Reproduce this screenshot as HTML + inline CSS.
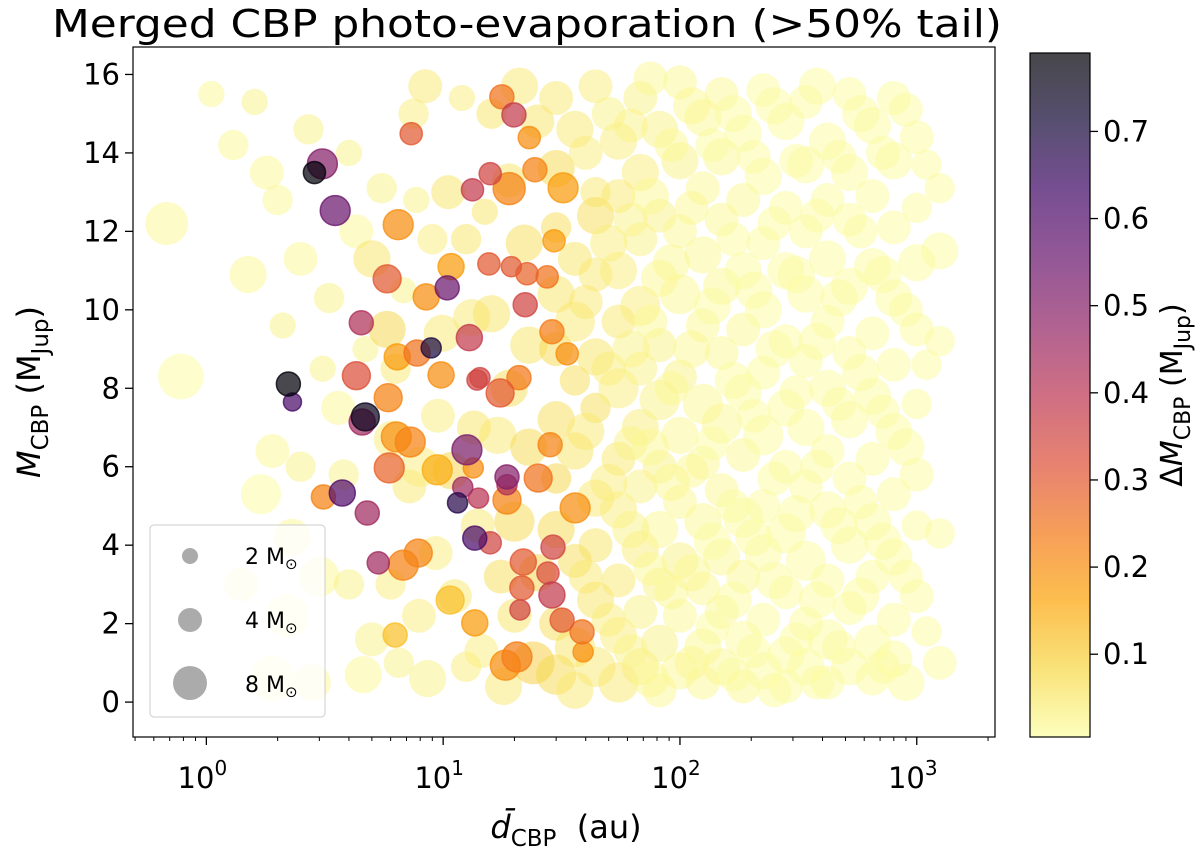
<!DOCTYPE html>
<html><head><meta charset="utf-8"><style>
html,body{margin:0;padding:0;background:#fff;}
svg{display:block;font-family:"DejaVu Sans","Liberation Sans",sans-serif;}
</style></head><body>
<svg id="chart" width="1200" height="858" viewBox="0 0 1200 858" xmlns="http://www.w3.org/2000/svg">
<defs>
<linearGradient id="cbgrad" x1="0" y1="1" x2="0" y2="0">
<stop offset="0" stop-color="#fcffa4"/><stop offset="0.1" stop-color="#f6d746"/><stop offset="0.2" stop-color="#fca50a"/><stop offset="0.3" stop-color="#f37819"/><stop offset="0.4" stop-color="#dd513a"/><stop offset="0.5" stop-color="#bc3754"/><stop offset="0.6" stop-color="#932667"/><stop offset="0.7" stop-color="#6a176e"/><stop offset="0.8" stop-color="#420a68"/><stop offset="0.9" stop-color="#160b39"/><stop offset="1" stop-color="#000004"/>
</linearGradient>
<clipPath id="plotclip"><rect x="133" y="47" width="862" height="690"/></clipPath>
</defs>
<text x="527" y="37" font-size="38" text-anchor="middle" textLength="950" lengthAdjust="spacingAndGlyphs" fill="#000">Merged CBP photo-evaporation (&gt;50% tail)</text>
<g id="points" clip-path="url(#plotclip)"></g>
<rect x="133" y="47" width="862" height="690" fill="none" stroke="#000" stroke-width="1.2"/>
<g id="xaxis"></g>
<g id="yaxis"></g>
<text transform="translate(40,392) rotate(-90)" font-size="32" text-anchor="middle"><tspan font-style="italic">M</tspan><tspan font-size="23" dy="8">CBP</tspan><tspan dy="-8"> (M</tspan><tspan font-size="23" dy="8">Jup</tspan><tspan dy="-8">)</tspan></text>
<text x="566" y="838" font-size="32" text-anchor="middle"><tspan font-style="italic">d̄</tspan><tspan font-size="23" dy="8">CBP</tspan><tspan dy="-8" xml:space="preserve">  (au)</tspan></text>
<g>
<rect x="150" y="525" width="175" height="192" rx="4" fill="#fff" fill-opacity="0.8" stroke="#ccc"/>
<circle cx="190" cy="556" r="8" fill="#888" fill-opacity="0.7"/>
<circle cx="190" cy="620" r="12" fill="#888" fill-opacity="0.7"/>
<circle cx="190" cy="683" r="17" fill="#888" fill-opacity="0.7"/>
<text x="245" y="564" font-size="22">2 M<tspan font-size="15" dy="5">⊙</tspan></text>
<text x="245" y="628" font-size="22">4 M<tspan font-size="15" dy="5">⊙</tspan></text>
<text x="245" y="692" font-size="22">8 M<tspan font-size="15" dy="5">⊙</tspan></text>
</g>
<g>
<rect x="1030" y="53" width="60" height="684" fill="url(#cbgrad)" fill-opacity="0.72"/>
<rect x="1030" y="53" width="60" height="684" fill="none" stroke="#000" stroke-width="1.2"/>
<g id="cbticks"></g>
<text transform="translate(1182,395) rotate(-90)" font-size="30" text-anchor="middle">Δ<tspan font-style="italic">M</tspan><tspan font-size="22" dy="8">CBP</tspan><tspan dy="-8"> (M</tspan><tspan font-size="22" dy="8">Jup</tspan><tspan dy="-8">)</tspan></text>
</g>
</svg>
<script>
const NS="http://www.w3.org/2000/svg";
const xTickVals=[1,10,100,1000];
const xTickExps=["0","1","2","3"];
const yTickVals=[0,2,4,6,8,10,12,14,16];
const cbTickVals=[0.1,0.2,0.3,0.4,0.5,0.6,0.7];
const xDomain=[0.49,2140];
const yDomain=[-0.89,16.7];
const cDomain=[0.005,0.79];
// pale background points: [distance au, mass Mjup, star mass Msun, dM]
const palePoints=[
[0.68,12.2,8,0.02],[0.78,8.3,9,0.01],[1.05,15.5,3,0.02],[1.3,14.2,4,0.02],[1.5,10.9,6,0.02],[1.6,15.3,3,0.03],[1.8,13.5,5,0.02],[1.9,6.4,5,0.02],[1.7,5.3,7,0.01],[2.1,9.6,3,0.03],[2.0,12.8,4,0.02],[2.5,11.3,5,0.02],[2.7,14.6,4,0.03],[2.2,2.2,8,0.01],[1.9,0.6,9,0.01],[2.8,0.5,6,0.02],[3.0,3.2,7,0.02],[2.5,6.0,4,0.03],[3.3,10.3,4,0.03],[3.6,7.5,5,0.02],[3.1,8.5,3,0.03],[4.0,14.0,3,0.03],[4.3,12.0,5,0.02],[5.0,11.3,6,0.06],[5.5,13.1,4,0.03],[4.7,9.0,3,0.03],[4.0,3.0,4,0.03],[5.0,1.6,5,0.03],[4.6,0.7,6,0.02],[6.0,3.0,4,0.04],[6.5,1.0,4,0.03],[5.8,9.5,6,0.09],[6.3,8.5,4,0.05],[6.8,10.5,3,0.03],[7.5,15.0,4,0.04],[7.7,12.8,3,0.03],[7.2,5.5,5,0.05],[6.1,6.7,6,0.04],[7.9,2.2,5,0.04],[2.3,4.2,6,0.02],[1.4,3.0,5,0.02],[3.8,5.8,4,0.03],[8.4,15.7,5,0.05],[8.0,6.0,7,0.04],[9.0,11.8,4,0.04],[9.5,7.3,5,0.04],[9.3,3.8,5,0.04],[8.6,0.6,6,0.03],[9.9,9.4,6,0.05],[10.5,13.0,5,0.06],[10.8,5.9,6,0.09],[11.2,2.7,5,0.05],[12.5,0.9,4,0.04],[12.0,15.4,3,0.04],[12.5,11.8,4,0.06],[13.2,9.8,6,0.05],[13.5,7.0,5,0.06],[14,4.5,5,0.05],[14.5,1.3,5,0.04],[15,12.5,3,0.06],[16,15.0,4,0.06],[16,9.9,6,0.06],[17,6.8,6,0.05],[17.5,3.2,5,0.07],[18,0.4,6,0.05],[19,13.3,5,0.06],[19,8.0,6,0.07],[20,4.6,7,0.08],[20,2.2,5,0.06],[21,15.7,6,0.05],[22,11.7,6,0.07],[23,9.1,6,0.06],[23,6.5,6,0.08],[24,1.0,8,0.1],[25,14.8,5,0.06],[25,3.3,6,0.09],
[30,15.4,5,0.05],[30,13.6,6,0.08],[30,12.1,4,0.07],[30,10.4,6,0.06],[30,9.0,5,0.08],[30,7.2,6,0.07],[30,5.7,4,0.09],[30,4.4,6,0.08],[30,2.0,5,0.07],[30,0.7,7,0.08],
[36,14.6,6,0.05],[36,11.3,5,0.06],[36,9.7,7,0.05],[36,8.2,4,0.07],[36,6.4,6,0.06],[36,3.6,5,0.07],[36,1.4,7,0.06],[36,0.3,6,0.05],
[44,15.7,5,0.04],[44,13.0,4,0.05],[44,12.4,6,0.07],[44,10.9,5,0.05],[44,8.8,6,0.06],[44,7.5,4,0.07],[44,5.2,6,0.05],[44,4.0,5,0.06],[44,2.6,6,0.06],[44,0.9,7,0.05],
[55,14.3,6,0.04],[55,12.9,5,0.05],[55,11.0,6,0.04],[55,9.7,5,0.05],[55,8.0,7,0.04],[55,6.2,5,0.05],[55,4.9,6,0.04],[55,3.1,5,0.05],[55,1.7,6,0.04],[55,0.5,7,0.05],
[68,15.4,5,0.03],[68,13.5,6,0.04],[68,11.8,5,0.03],[68,10.1,7,0.04],[68,8.5,5,0.03],[68,7.0,6,0.04],[68,5.5,5,0.03],[68,3.9,6,0.04],[68,2.3,5,0.03],[68,0.9,6,0.04],
[82,14.6,6,0.03],[82,12.4,5,0.03],[82,10.8,6,0.02],[82,9.1,5,0.03],[82,7.7,7,0.03],[82,6.0,5,0.03],[82,4.4,6,0.02],[82,3.0,5,0.03],[82,1.5,6,0.03],[82,0.3,5,0.02],
[100,15.8,5,0.02],[100,13.8,6,0.03],[100,12.0,5,0.02],[100,10.4,7,0.02],[100,8.3,5,0.03],[100,6.8,6,0.02],[100,5.1,5,0.02],[100,3.6,6,0.03],[100,2.2,5,0.02],[100,0.8,6,0.02],
[125,14.9,6,0.02],[125,13.1,5,0.02],[125,11.4,6,0.02],[125,9.6,5,0.02],[125,7.6,7,0.02],[125,6.1,5,0.02],[125,4.6,6,0.02],[125,2.9,5,0.02],[125,1.4,6,0.02],[125,0.5,5,0.02],
[150,15.5,5,0.02],[150,13.9,6,0.02],[150,12.3,5,0.02],[150,10.6,6,0.02],[150,8.9,5,0.02],[150,7.1,7,0.02],[150,5.4,5,0.02],[150,3.7,6,0.02],[150,2.3,5,0.02],[150,0.9,6,0.02],
[185,14.5,6,0.01],[185,12.8,5,0.02],[185,11.0,6,0.01],[185,9.5,5,0.02],[185,7.9,6,0.01],[185,6.3,5,0.02],[185,4.7,7,0.01],[185,3.2,5,0.02],[185,1.6,6,0.01],[185,0.4,5,0.02],
[225,15.6,5,0.01],[225,13.4,6,0.01],[225,11.7,5,0.01],[225,10.0,6,0.01],[225,8.4,5,0.01],[225,6.8,7,0.01],[225,5.0,5,0.01],[225,3.8,6,0.01],[225,2.1,5,0.01],[225,0.8,6,0.01],
[280,14.8,6,0.01],[280,12.6,5,0.01],[280,11.0,6,0.01],[280,9.2,5,0.01],[280,7.5,6,0.01],[280,6.0,5,0.01],[280,4.3,7,0.01],[280,2.8,5,0.01],[280,1.2,6,0.01],[280,0.4,5,0.01],
[340,15.3,5,0.01],[340,13.7,6,0.01],[340,12.0,5,0.01],[340,10.4,6,0.01],[340,8.7,5,0.01],[340,7.0,6,0.01],[340,5.5,5,0.01],[340,3.6,7,0.01],[340,2.0,5,0.01],[340,0.9,6,0.01],
[420,14.3,6,0.01],[420,12.8,5,0.01],[420,11.3,6,0.01],[420,9.7,5,0.01],[420,8.0,6,0.01],[420,6.4,5,0.01],[420,4.9,6,0.01],[420,3.1,5,0.01],[420,1.6,7,0.01],[420,0.5,5,0.01],
[520,15.5,5,0.01],[520,13.5,6,0.01],[520,12.3,5,0.01],[520,10.6,6,0.01],[520,8.9,5,0.01],[520,7.2,6,0.01],[520,5.7,5,0.01],[520,4.0,6,0.01],[520,2.4,5,0.01],[520,0.9,6,0.01],
[650,14.7,6,0.01],[650,12.9,5,0.01],[650,11.1,6,0.01],[650,9.4,5,0.01],[650,7.8,6,0.01],[650,6.2,5,0.01],[650,4.6,6,0.01],[650,3.2,5,0.01],[650,1.5,6,0.01],[650,0.6,5,0.01],
[800,15.4,5,0.01],[800,13.8,6,0.01],[800,12.1,5,0.01],[800,10.3,6,0.01],[800,8.6,5,0.01],[800,6.9,6,0.01],[800,5.3,5,0.01],[800,3.7,6,0.01],[800,2.1,5,0.01],[800,1.1,6,0.01],
[1000,14.4,5,0.01],[1000,12.6,4,0.01],[1000,11.2,6,0.01],[1000,9.5,5,0.01],[1000,7.6,4,0.01],[1000,5.8,5,0.01],[1000,4.5,4,0.01],[1000,2.7,5,0.01],
[1250,13.1,4,0.01],[1250,11.5,6,0.01],[1250,9.2,4,0.01],[1250,4.3,4,0.01],[1250,1.0,5,0.01],
[40,14.0,5,0.04],[40,10.2,5,0.05],[40,6.9,6,0.05],[40,3.2,5,0.05],[50,15.0,5,0.03],[50,11.7,6,0.04],[50,8.5,5,0.04],[50,5.6,6,0.04],[50,2.1,5,0.04],
[62,14.7,5,0.03],[62,12.3,5,0.03],[62,9.0,6,0.03],[62,6.6,5,0.03],[62,4.4,6,0.03],[62,1.3,5,0.03],[75,15.9,5,0.02],[75,12.9,6,0.02],[75,9.7,5,0.02],[75,6.5,6,0.02],[75,3.4,5,0.02],[75,0.6,6,0.02],
[92,14.2,5,0.02],[92,11.2,6,0.02],[92,8.0,5,0.02],[92,5.6,6,0.02],[92,2.8,5,0.02],[112,15.2,6,0.02],[112,12.6,5,0.02],[112,9.0,6,0.02],[112,5.9,5,0.02],[112,3.3,6,0.02],[112,1.0,5,0.02],
[137,14.2,5,0.01],[137,10.1,6,0.01],[137,6.6,5,0.01],[137,4.1,6,0.01],[137,1.9,5,0.01],[168,15.0,6,0.01],[168,11.8,5,0.01],[168,8.2,6,0.01],[168,5.0,5,0.01],[168,2.6,6,0.01],[168,0.7,5,0.01],
[205,13.9,5,0.01],[205,10.5,6,0.01],[205,7.3,5,0.01],[205,4.2,6,0.01],[205,1.3,5,0.01],[250,15.2,6,0.01],[250,12.2,5,0.01],[250,9.0,6,0.01],[250,5.7,5,0.01],[250,3.1,6,0.01],[250,0.3,5,0.01],
[310,13.8,5,0.01],[310,10.9,6,0.01],[310,7.9,5,0.01],[310,4.8,6,0.01],[310,1.6,5,0.01],[380,15.7,6,0.01],[380,12.4,5,0.01],[380,9.2,6,0.01],[380,6.0,5,0.01],[380,2.6,6,0.01],[380,0.5,5,0.01],
[470,13.9,5,0.01],[470,10.3,6,0.01],[470,7.6,5,0.01],[470,4.5,6,0.01],[470,1.4,5,0.01],[580,15.0,6,0.01],[580,12.0,5,0.01],[580,8.4,6,0.01],[580,5.1,5,0.01],[580,2.7,6,0.01],
[720,14.0,5,0.01],[720,10.9,6,0.01],[720,7.4,5,0.01],[720,4.1,6,0.01],[720,0.9,5,0.01],[900,15.1,5,0.01],[900,10.0,5,0.01],[900,6.5,6,0.01],[900,3.2,5,0.01],[900,0.5,6,0.01],
[1100,13.7,4,0.01],[1100,8.6,4,0.01],[1100,1.8,4,0.01]
];
// coloured points: [distance au, mass Mjup, star mass Msun, dM]
const colorPoints=[
[3.09,13.72,6.2,0.5],[2.86,13.5,3.4,0.78],[3.50,12.53,6.2,0.55],[6.46,12.17,6.2,0.2],[7.33,14.49,3.4,0.3],[5.8,10.79,5.4,0.3],[10.4,10.56,4,0.55],[8.48,10.33,4.7,0.2],[4.51,9.67,4,0.42],[12.9,9.29,4.7,0.38],[8.9,9.03,2.8,0.7],[4.3,8.32,5.4,0.32],[2.22,8.11,4,0.78],[17.7,15.43,4,0.25],[19.9,14.97,4,0.38],[13.3,13.06,3.4,0.38],[15.8,13.47,3.4,0.35],[19.0,13.09,7.1,0.22],[24.4,13.57,4,0.22],[32.1,13.11,6.2,0.18],[23.1,14.39,3.4,0.2],[15.6,11.17,3.4,0.3],[19.4,11.10,2.8,0.3],[22.6,10.92,3.4,0.28],[27.5,10.84,3.4,0.25],[22.2,10.13,4,0.35],[28.8,9.44,4,0.23],[33.4,8.88,3.4,0.2],[20.9,8.27,4,0.24],[14.3,8.27,2.8,0.35],[10.8,11.10,4.7,0.18],[9.8,8.34,4.7,0.2],[6.4,8.80,4.7,0.18],[7.76,8.90,4.7,0.25],[29.4,11.76,3.4,0.18],[2.31,7.65,2.25,0.62],[4.55,7.14,4.7,0.45],[4.69,7.27,5.4,0.75],[5.86,7.76,5.4,0.22],[7.26,6.63,6.2,0.22],[6.34,6.76,6.2,0.2],[5.92,5.97,6.2,0.28],[9.44,5.92,6.2,0.15],[12.6,6.43,6.2,0.52],[13.4,5.97,2.8,0.2],[12.1,5.48,2.8,0.45],[14.1,5.20,2.8,0.4],[11.5,5.08,2.8,0.68],[3.12,5.23,4,0.22],[3.75,5.33,4.7,0.6],[4.78,4.82,4,0.45],[15.8,4.06,3.4,0.35],[13.6,4.18,4,0.62],[5.32,3.55,3.4,0.45],[6.78,3.49,6.2,0.22],[7.85,3.80,5.4,0.22],[18.6,5.54,2.8,0.42],[18.6,5.74,4,0.5],[18.6,5.15,5.4,0.22],[17.4,7.88,5.4,0.3],[13.9,8.21,2.8,0.35],[25.2,5.71,5.4,0.25],[28.3,6.56,4,0.22],[36.1,4.95,6.2,0.2],[29.1,3.95,4,0.35],[21.8,3.57,4.7,0.3],[27.7,3.29,3.4,0.33],[21.5,2.91,4,0.3],[28.8,2.73,4.7,0.38],[21.1,2.35,2.8,0.35],[31.8,2.09,4,0.3],[38.6,1.79,4,0.25],[13.6,2.02,4.7,0.18],[20.5,1.15,6.2,0.23],[18.3,0.94,6.2,0.2],[39.0,1.28,2.8,0.2],[10.7,2.60,5.4,0.12],[6.27,1.71,4,0.12]
];
const PX={l:133,r:995,t:47,b:737};
function xs(d){return PX.l+(Math.log10(d)-Math.log10(xDomain[0]))/(Math.log10(xDomain[1])-Math.log10(xDomain[0]))*(PX.r-PX.l);}
function ys(m){return PX.b-(m-yDomain[0])/(yDomain[1]-yDomain[0])*(PX.b-PX.t);}
function rs(M){return 6*Math.sqrt(M);}
function rsPale(M){return 7.6*Math.sqrt(M);}
function cbY(v){return 737-(v-cDomain[0])/(cDomain[1]-cDomain[0])*684;}
const stops=[[0,0,4],[22,11,57],[66,10,104],[106,23,110],[147,38,103],[188,55,84],[221,81,58],[243,120,25],[252,165,10],[246,215,70],[252,255,164]];
function cmap(v){let t=(v-cDomain[0])/(cDomain[1]-cDomain[0]);t=Math.max(0,Math.min(1,t));const u=(1-t)*10;const i=Math.min(9,Math.floor(u));const f=u-i;const a=stops[i],b=stops[i+1];return `rgb(${Math.round(a[0]+(b[0]-a[0])*f)},${Math.round(a[1]+(b[1]-a[1])*f)},${Math.round(a[2]+(b[2]-a[2])*f)})`;}
function mk(tag,attrs,parent){const e=document.createElementNS(NS,tag);for(const k in attrs)e.setAttribute(k,attrs[k]);parent.appendChild(e);return e;}
const gp=document.getElementById('points');
palePoints.forEach(p=>{
 const c=mk('circle',{cx:xs(p[0]),cy:ys(p[1]),r:rsPale(p[2]),fill:cmap(p[3]),'fill-opacity':0.5},gp);
 
 
});
colorPoints.slice().sort((a,b)=>a[3]-b[3]).forEach(p=>{
 const col=cmap(p[3]);
 const c=mk('circle',{cx:xs(p[0]),cy:ys(p[1]),r:rs(p[2]),fill:col,'fill-opacity':0.72,stroke:col,'stroke-opacity':0.8,'stroke-width':1.5},gp);
 
 
});
const gx=document.getElementById('xaxis');
for(let e=-1;e<=3;e++){for(let k=1;k<10;k++){const v=k*Math.pow(10,e);if(v<xDomain[0]||v>xDomain[1])continue;const x=xs(v);const major=k===1;
 const t=mk('line',{x1:x,x2:x,y1:PX.b,y2:PX.b+(major?8:4),stroke:'#000','stroke-width':major?1.3:1},gx);
 
 }}
xTickVals.forEach((v,i)=>{const t=mk('text',{x:xs(v)-4,y:788,'font-size':29,'text-anchor':'middle'},gx);
 
 
 t.textContent='10';const s=mk('tspan',{'font-size':20,dy:-13},t);s.textContent=xTickExps[i];});
const gy=document.getElementById('yaxis');
yTickVals.forEach(v=>{const y=ys(v);
 const l=mk('line',{x1:PX.l-8,x2:PX.l,y1:y,y2:y,stroke:'#000','stroke-width':1.3},gy);
 
 
 const t=mk('text',{x:PX.l-13,y:y+10,'font-size':29,'text-anchor':'end'},gy);
 
 
 t.textContent=String(v);});
const gc=document.getElementById('cbticks');
cbTickVals.forEach(v=>{const y=cbY(v);
 const l=mk('line',{x1:1090,x2:1098,y1:y,y2:y,stroke:'#000','stroke-width':1.3},gc);
 
 
 const t=mk('text',{x:1103,y:y+10,'font-size':29},gc);
 
 
 t.textContent=v.toFixed(1);});
</script>
</body></html>
